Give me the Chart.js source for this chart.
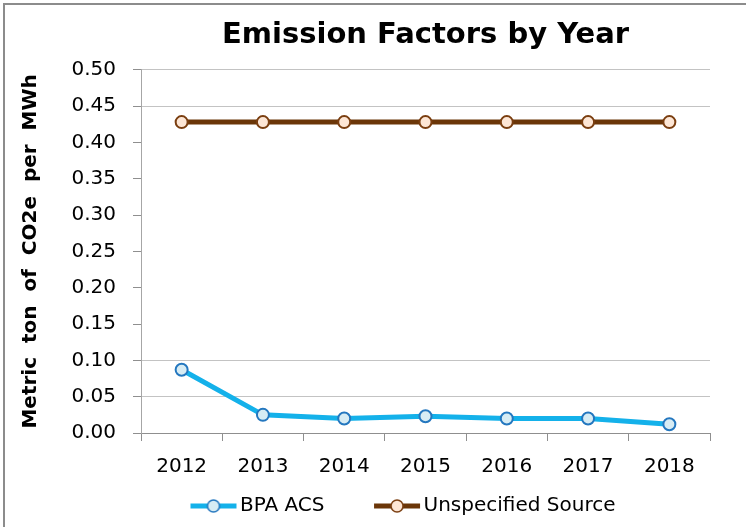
<!DOCTYPE html>
<html>
<head>
<meta charset="utf-8">
<script src="https://cdn.jsdelivr.net/npm/chart.js@4"></script>
<style>
  html, body { margin: 0; padding: 0; background: #fff; }
  #wrap { width: 746px; height: 527px; }
</style>
</head>
<body>
<div id="wrap"><canvas id="chart-emissions" width="746" height="527"></canvas></div>
<script>
const years = ['2012', '2013', '2014', '2015', '2016', '2017', '2018'];
const bpaAcs = [0.087, 0.025, 0.020, 0.023, 0.020, 0.020, 0.012];
const unspecifiedSource = [0.428, 0.428, 0.428, 0.428, 0.428, 0.428, 0.428];
const yTicks = [0, 0.05, 0.10, 0.15, 0.20, 0.25, 0.30, 0.35, 0.40, 0.45, 0.50];

const FONT = "'DejaVu Sans', sans-serif";

const styles = {
  bpa: { line: '#14b1ea', fill: '#d7ecf4', edge: '#2477bf' },
  unspec: { line: '#6b3608', fill: '#fde6d5', edge: '#7a3e10' },
};

// legend icon: short line with a marker, sitting in the right part of the box
const ICON_BOX = 79;
function legendIcon(s) {
  const c = document.createElement('canvas');
  c.width = 94; c.height = 16;
  const g = c.getContext('2d');
  const x0 = 47, x1 = 93;
  g.strokeStyle = s.line;
  g.lineWidth = 5;
  g.beginPath(); g.moveTo(x0, 8); g.lineTo(x1, 8); g.stroke();
  g.beginPath(); g.arc((x0 + x1) / 2, 8, 6, 0, Math.PI * 2);
  g.fillStyle = s.fill; g.fill();
  g.lineWidth = 1.5; g.strokeStyle = s.edge; g.stroke();
  return c;
}

// frame of the picture (only top and left edge show in the reference)
const framePlugin = {
  id: 'frame',
  beforeDraw(chart) {
    const ctx = chart.ctx;
    ctx.save();
    ctx.fillStyle = '#fff';
    ctx.fillRect(0, 0, chart.width, chart.height);
    ctx.strokeStyle = '#8c8c8c';
    ctx.lineWidth = 2;
    ctx.beginPath();
    ctx.moveTo(4, chart.height);
    ctx.lineTo(4, 4);
    ctx.lineTo(chart.width, 4);
    ctx.stroke();
    ctx.restore();
  }
};

const visibleGrid = [0.05, 0.10, 0.45, 0.50];

const ctx = document.getElementById('chart-emissions').getContext('2d');
new Chart(ctx, {
  type: 'line',
  data: {
    labels: years,
    datasets: [{
      label: 'BPA ACS',
      data: bpaAcs,
      borderColor: styles.bpa.line,
      backgroundColor: styles.bpa.fill,
      borderWidth: 5,
      pointRadius: 6,
      pointBorderWidth: 2,
      pointBackgroundColor: styles.bpa.fill,
      pointBorderColor: styles.bpa.edge,
      tension: 0,
    }, {
      label: 'Unspecified Source',
      data: unspecifiedSource,
      borderColor: styles.unspec.line,
      backgroundColor: styles.unspec.fill,
      borderWidth: 5,
      pointRadius: 6,
      pointBorderWidth: 2,
      pointBackgroundColor: styles.unspec.fill,
      pointBorderColor: styles.unspec.edge,
      tension: 0,
    }]
  },
  options: {
    responsive: false,
    animation: false,
    layout: { padding: { left: 12, right: 36, top: 0, bottom: 1 } },
    plugins: {
      title: {
        display: true,
        text: 'Emission Factors by Year',
        fullSize: false,
        color: '#000',
        font: { family: FONT, size: 29, weight: 'bold' },
        padding: { top: 18, bottom: 17 },
      },
      legend: {
        position: 'bottom',
        fullSize: false,
        align: 'start',
        labels: {
          color: '#000',
          font: { family: FONT, size: 20 },
          usePointStyle: true,
          pointStyleWidth: ICON_BOX,
          padding: 10,
          generateLabels: (chart) => chart.data.datasets.map((ds, i) => ({
            text: ds.label,
            pointStyle: legendIcon(i === 0 ? styles.bpa : styles.unspec),
            fontColor: '#000',
            lineWidth: 0,
            datasetIndex: i,
          })),
        },
      },
      tooltip: { enabled: false },
    },
    scales: {
      x: {
        offset: true,
        afterFit: (s) => { s.height = 53; },
        grid: { offset: true, drawOnChartArea: false, tickLength: 8, color: '#8f8f8f' },
        border: { color: '#8f8f8f', width: 1 },
        ticks: { color: '#000', font: { family: FONT, size: 20 }, padding: 14, maxRotation: 0 },
      },
      y: {
        min: 0,
        max: 0.5,
        afterFit: (s) => { s.width = 129; },
        afterBuildTicks: (s) => { s.ticks = yTicks.map(v => ({ value: v })); },
        grid: {
          tickLength: 8,
          tickColor: '#8f8f8f',
          color: (c) => visibleGrid.some(v => Math.abs(v - c.tick.value) < 1e-6) ? '#c3c3c3' : 'rgba(0,0,0,0)',
        },
        border: { color: '#a6a6a6', width: 1 },
        ticks: {
          color: '#000',
          font: { family: FONT, size: 20 },
          padding: 17,
          callback: (v) => Number(v).toFixed(2),
        },
        title: {
          display: true,
          text: 'Metric  ton  of  CO2e  per  MWh',
          color: '#000',
          font: { family: FONT, size: 20, weight: 'bold' },
          padding: { top: 7, bottom: 0 },
        },
      },
    },
  },
  plugins: [framePlugin],
});
</script>
</body>
</html>
